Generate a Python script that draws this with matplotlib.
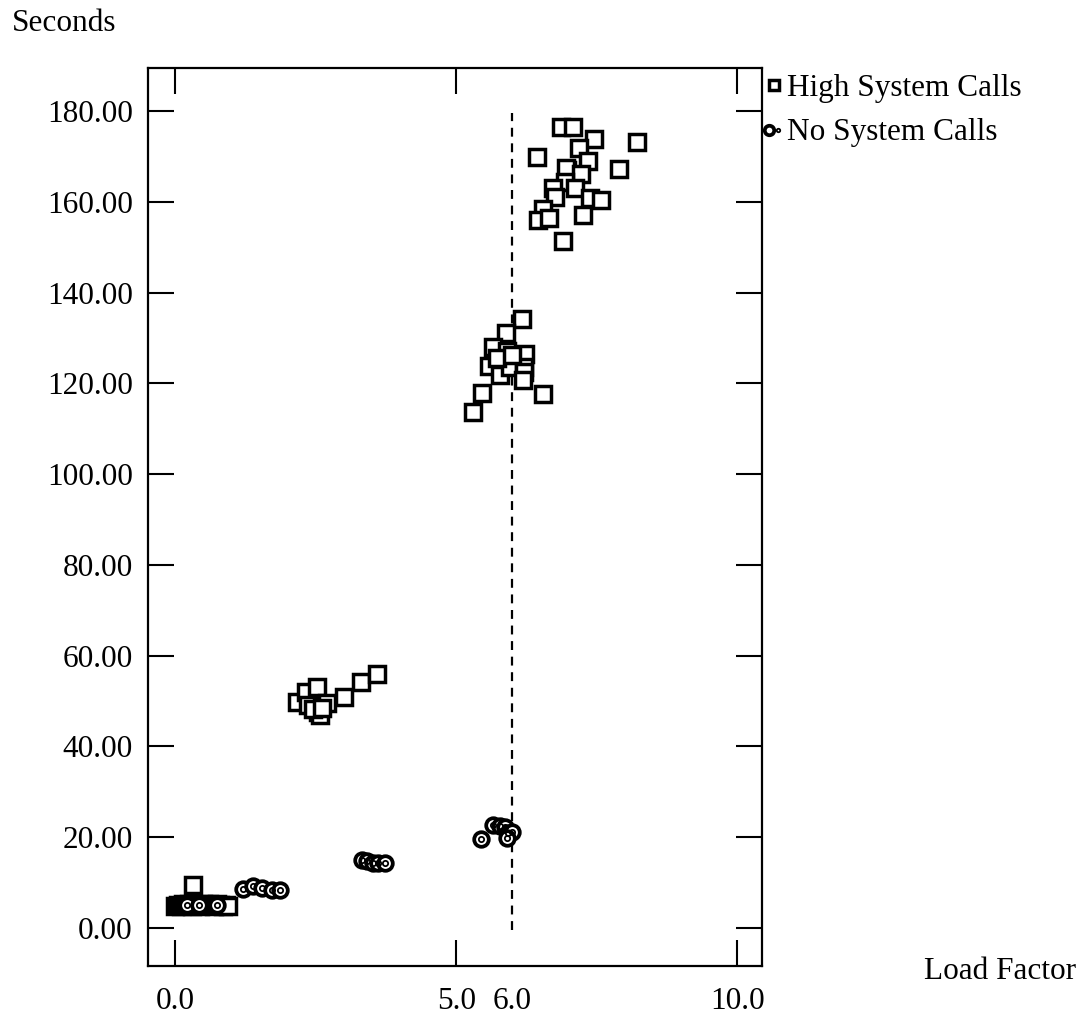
import matplotlib
matplotlib.use("Agg")
import matplotlib.pyplot as plt
from matplotlib.legend_handler import HandlerTuple

plt.rcParams["font.family"] = ["Liberation Serif", "DejaVu Serif"]

# Timings with a high rate of system calls
high_load = [0.00, 0.05, 0.10, 0.15, 0.20, 0.25, 0.30, 0.35, 0.40, 0.45,
             0.50, 0.55, 0.60, 0.65, 0.70, 0.75, 0.80, 0.85, 0.90, 0.95,
             0.32,
             2.17, 2.33, 2.53, 2.37, 2.54, 2.70, 2.58, 2.45, 2.62, 3.01,
             3.31, 3.59,
             6.17, 5.89, 5.66, 5.91, 6.23, 5.59, 5.78, 5.96, 6.21, 6.21,
             6.19, 5.46, 6.55, 5.30, 5.73, 6.00,
             6.87, 7.08, 7.46, 8.22, 6.44, 7.19, 7.35, 6.98, 6.95, 7.22,
             7.90, 6.94, 6.73, 7.12, 6.76, 7.38, 7.58, 6.55, 6.46, 6.65,
             7.26, 6.90]
high_secs = [4.9, 5.1, 4.8, 5.2, 5.0, 5.3, 4.9, 5.1, 5.0, 4.8,
             5.2, 5.0, 5.3, 5.1, 4.9, 5.2, 5.0, 4.8, 5.1, 4.9,
             9.5,
             49.8, 52.0, 53.1, 49.1, 47.6, 49.6, 46.9, 48.2, 48.5, 50.9,
             54.2, 56.0,
             134.2, 131.1, 128.0, 127.1, 126.5, 123.8, 121.8, 123.6, 123.6, 122.5,
             120.7, 117.9, 117.6, 113.7, 125.6, 126.2,
             176.5, 176.5, 173.8, 173.2, 169.8, 171.8, 169.0, 167.0, 167.5, 166.1,
             167.2, 164.3, 163.0, 163.0, 161.0, 160.8, 160.4, 158.4, 156.0, 156.4,
             157.1, 151.4]

# Timings without system calls
none_load = [0.22, 0.42, 0.75,
             1.21, 1.39, 1.55, 1.73, 1.87,
             3.33, 3.42, 3.52, 3.61, 3.74,
             5.44, 5.66, 5.78, 5.87, 5.93, 6.00, 5.91]
none_secs = [5.0, 5.0, 5.0,
             8.6, 9.3, 8.8, 8.4, 8.4,
             15.0, 14.7, 14.2, 14.3, 14.3,
             19.6, 22.7, 22.5, 22.3, 20.9, 21.1, 19.8]

# Reference load factor marked by the dashed line
ref_load = 6.0
ref_span = (-0.5, 179.5)

x_ticks = [0.0, 5.0, 10.0]
x_tick_labels = ["0.0", "5.0", "10.0"]
x_extra = [6.0]
x_extra_labels = ["6.0"]
y_ticks = [0, 20, 40, 60, 80, 100, 120, 140, 160, 180]

FS = 22.5

fig = plt.figure(figsize=(10.87, 10.23), dpi=100)
ax = fig.add_axes([0.1362, 0.0557, 0.5648, 0.8778])

ax.plot([ref_load, ref_load], ref_span, linestyle=(0, (4, 3)), color="black",
        linewidth=1.6, zorder=1)

sq, = ax.plot(high_load, high_secs, linestyle="none", marker="s", markersize=11,
              markerfacecolor="white", markeredgecolor="black",
              markeredgewidth=2.5, zorder=2)
outer, = ax.plot(none_load, none_secs, linestyle="none", marker="o", markersize=10.5,
                 markerfacecolor="white", markeredgecolor="black",
                 markeredgewidth=2.7, zorder=3)
inner, = ax.plot(none_load, none_secs, linestyle="none", marker="o", markersize=3.8,
                 markerfacecolor="none", markeredgecolor="black",
                 markeredgewidth=1.3, zorder=4)

ax.set_xlim(-0.48, 10.44)
ax.set_ylim(-8.4, 189.5)

ax.set_xticks(x_ticks)
ax.set_xticklabels(x_tick_labels)
ax.set_xticks(x_extra, minor=True)
ax.set_xticklabels(x_extra_labels, minor=True)
ax.set_yticks(y_ticks)
ax.set_yticklabels([f"{v:.2f}" for v in y_ticks])

ax.tick_params(axis="both", which="major", direction="in", length=19, width=1.5,
               labelsize=FS, top=True, right=True, color="black")
ax.tick_params(axis="x", which="major", pad=15)
ax.tick_params(axis="y", which="major", pad=11)
ax.tick_params(axis="x", which="minor", length=0, labelsize=FS, pad=15)

for sp in ax.spines.values():
    sp.set_linewidth(1.6)

fig.text(0.011, 0.977, "Seconds", fontsize=FS, ha="left", va="center")
fig.text(0.990, 0.050, "Load Factor", fontsize=FS, ha="right", va="center")

leg = ax.legend([sq, (outer, inner)], ["High System Calls", "No System Calls"],
                loc="upper left", bbox_to_anchor=(1.0, 0.997), frameon=False,
                fontsize=FS, handlelength=0.55, handletextpad=0.15,
                labelspacing=0.5, borderaxespad=0.1, borderpad=0.0,
                markerscale=0.65,
                handler_map={tuple: HandlerTuple(ndivide=None, pad=0)})

fig.savefig("out.png", dpi=100)
